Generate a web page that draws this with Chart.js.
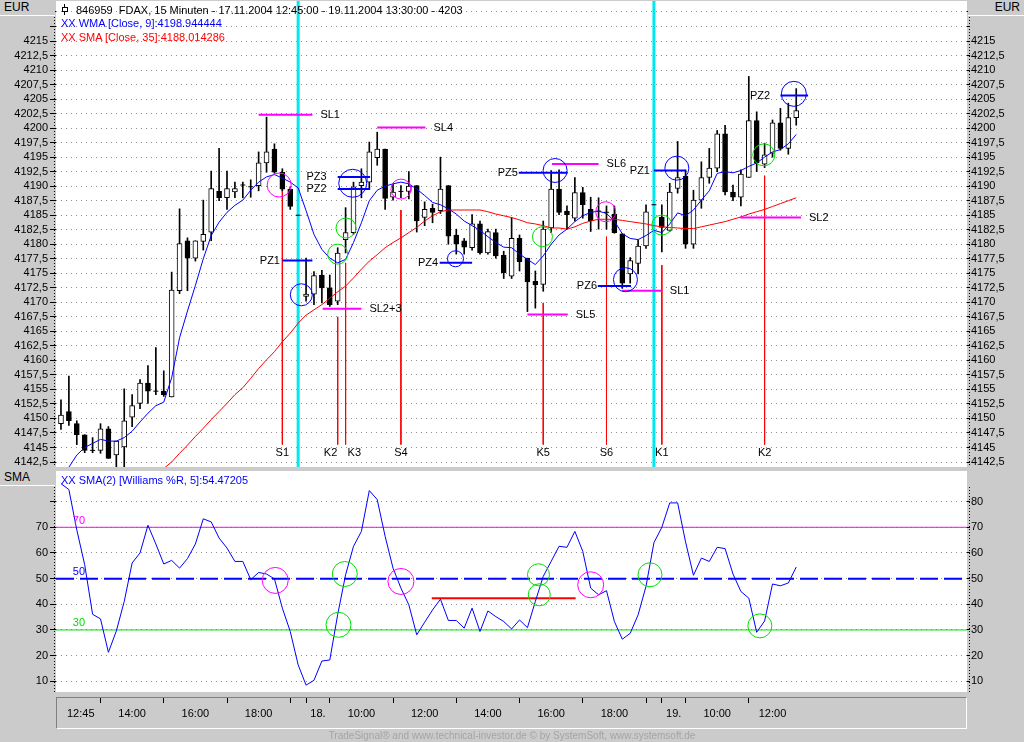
<!DOCTYPE html>
<html>
<head>
<meta charset="utf-8">
<title>FDAX 15 Minuten</title>
<script src="https://cdn.jsdelivr.net/npm/chart.js@4.4.1/dist/chart.umd.min.js"></script>
<style>
  html, body { margin: 0; padding: 0; background: #cbcbcb; }
  #page { position: relative; width: 1024px; height: 742px; overflow: hidden; background: #cbcbcb;
          font-family: 'Liberation Sans', Arial, sans-serif; font-size: 11px; color: #000; }
  canvas { position: absolute; left: 0; }
  #priceChart { top: 0; }
  #wrChart { top: 468px; }
  .hdr { position: absolute; height: 16px; line-height: 15px; background: #cbcbcb; border-bottom: 1px solid #fff;
         box-sizing: border-box; padding: 0 4px; font-size: 12px; }
  .txt { position: absolute; white-space: nowrap; line-height: 14px; }
  .icon { display: inline-block; position: relative; width: 6px; height: 11px; margin-right: 8px; vertical-align: -1px; }
  .icon::before { content: ''; position: absolute; left: 2px; top: 0; width: 1px; height: 11px; background: #000; }
  .icon::after { content: ''; position: absolute; left: 0; top: 3px; width: 4px; height: 3px; border: 1px solid #000; background: #fff; }
  #xbox { position: absolute; left: 56px; top: 697px; width: 911px; height: 32px; box-sizing: border-box;
          border-top: 1px solid #808080; border-left: 1px solid #808080; border-bottom: 1px solid #fff; border-right: 1px solid #fff; }
  #footer { position: absolute; left: 0; width: 1024px; top: 730px; text-align: center; font-size: 10px; color: #a4a4a4; }
</style>
</head>
<body>
<div id="page">
  <canvas id="priceChart" width="1024" height="468"></canvas>
  <canvas id="wrChart" width="1024" height="263"></canvas>

  <div class="hdr" style="left:0; top:0; width:55px;">EUR</div>
  <div class="hdr" style="left:968px; top:0; width:56px; text-align:right;">EUR</div>
  <div class="hdr" style="left:0; top:470px; width:55px;">SMA</div>

  <div class="txt" style="left:62px; top:3px;"><span class="icon"></span>846959&nbsp; FDAX, 15 Minuten - 17.11.2004 12:45:00 - 19.11.2004 13:30:00 - 4203</div>
  <div class="txt" style="left:61px; top:16px; color:#0000ff;">XX WMA [Close, 9]:4198.944444</div>
  <div class="txt" style="left:61px; top:30px; color:#ff0000;">XX SMA [Close, 35]:4188.014286</div>
  <div class="txt" style="left:61px; top:473px; color:#0000ff;">XX SMA(2) [Williams %R, 5]:54.47205</div>

  <div id="xbox"></div>
  <div id="footer">TradeSignal® and www.technical-investor.de © by SystemSoft, www.systemsoft.de</div>
</div>

<script>
// ---- price bars, 15 minute candles 17.11.2004 12:45 - 19.11.2004 13:30
const open = [4149.1, 4151.2, 4149.1, 4147.2, 4144.5, 4144.5, 4148.2, 4143.7, 4145.1, 4150.2,
  4152.6, 4156.1, 4154.7, 4154.7, 4153.7, 4172.0, 4180.6, 4177.6, 4180.5, 4182.1,
  4189.1, 4188.0, 4189.0, 4190.2, 4189.9, 4190.1, 4194.0, 4196.4, 4192.4, 4189.5,
  4185.0, 4171.0, 4171.4, 4174.7, 4172.5, 4170.2, 4180.8, 4182.0, 4190.1, 4190.7,
  4194.9, 4196.4, 4188.1, 4189.1, 4189.1, 4190.1, 4184.6, 4186.2, 4185.8, 4190.1,
  4181.6, 4180.6, 4179.4, 4183.5, 4178.5, 4182.0, 4178.1, 4174.5, 4181.0, 4177.6,
  4173.6, 4173.1, 4182.8, 4189.5, 4185.7, 4184.5, 4188.9, 4186.0, 4185.7, 4185.5,
  4185.2, 4181.8, 4174.9, 4176.7, 4179.7, 4186.8, 4184.7, 4182.4, 4189.6, 4191.7,
  4180.0, 4187.6, 4191.5, 4193.1, 4199.0, 4189.0, 4188.1, 4191.5, 4201.3, 4193.8,
  4195.7, 4200.9, 4196.5, 4201.8];
const high = [4153.2, 4157.3, 4149.6, 4147.2, 4146.7, 4149.1, 4148.6, 4146.1, 4155.1, 4154.1,
  4156.7, 4159.1, 4162.2, 4158.2, 4175.2, 4186.1, 4181.1, 4180.6, 4187.6, 4192.6,
  4196.5, 4192.6, 4190.7, 4190.7, 4191.1, 4195.9, 4201.9, 4197.3, 4193.0, 4189.9,
  4185.0, 4177.6, 4175.3, 4175.5, 4174.7, 4179.4, 4186.3, 4190.7, 4193.0, 4197.6,
  4199.3, 4196.4, 4190.4, 4190.1, 4192.5, 4190.1, 4187.3, 4186.9, 4195.0, 4190.1,
  4182.6, 4181.0, 4185.1, 4184.0, 4182.6, 4182.6, 4178.8, 4184.6, 4181.6, 4177.6,
  4175.4, 4184.0, 4192.7, 4192.8, 4186.6, 4191.5, 4189.8, 4188.1, 4188.0, 4186.6,
  4186.6, 4181.8, 4177.7, 4180.7, 4186.8, 4186.8, 4186.8, 4190.5, 4197.7, 4192.8,
  4189.3, 4194.2, 4196.5, 4199.6, 4200.5, 4190.2, 4192.8, 4208.9, 4202.8, 4197.4,
  4201.4, 4203.4, 4204.3, 4206.8];
const low = [4148.1, 4148.8, 4145.5, 4144.1, 4144.1, 4144.0, 4143.1, 4141.7, 4141.4, 4148.6,
  4151.7, 4152.6, 4154.1, 4153.8, 4153.7, 4171.5, 4172.0, 4177.1, 4179.0, 4180.6,
  4187.5, 4186.0, 4188.0, 4188.0, 4188.1, 4189.2, 4192.4, 4192.2, 4189.2, 4186.0,
  4185.0, 4170.2, 4169.6, 4169.9, 4169.3, 4169.6, 4178.5, 4181.7, 4188.0, 4189.5,
  4193.6, 4186.0, 4187.6, 4188.0, 4187.8, 4182.1, 4183.2, 4183.7, 4185.3, 4180.0,
  4178.3, 4178.3, 4179.0, 4178.3, 4178.3, 4177.6, 4174.1, 4174.1, 4175.4, 4168.4,
  4169.0, 4171.9, 4182.0, 4185.1, 4182.6, 4184.0, 4184.5, 4182.2, 4182.6, 4182.6,
  4181.9, 4172.4, 4173.3, 4174.9, 4179.3, 4186.8, 4178.7, 4182.2, 4188.8, 4179.3,
  4179.3, 4186.2, 4190.5, 4192.5, 4188.5, 4187.5, 4186.6, 4191.5, 4192.5, 4193.2,
  4195.0, 4196.2, 4195.5, 4200.5];
const close = [4150.6, 4149.6, 4147.2, 4144.5, 4144.5, 4148.2, 4143.1, 4146.1, 4149.6, 4152.2,
  4156.1, 4154.7, 4154.7, 4154.1, 4172.1, 4180.1, 4177.6, 4180.6, 4181.7, 4189.6,
  4188.0, 4189.6, 4189.6, 4190.2, 4189.9, 4194.0, 4195.9, 4192.4, 4189.5, 4186.5,
  4185.0, 4171.4, 4174.6, 4172.5, 4169.6, 4178.5, 4182.0, 4189.9, 4190.7, 4195.9,
  4196.4, 4187.9, 4189.0, 4189.1, 4190.0, 4184.0, 4186.0, 4185.5, 4189.5, 4181.4,
  4180.0, 4179.5, 4183.5, 4178.5, 4182.2, 4178.0, 4175.1, 4181.0, 4177.0, 4173.5,
  4173.0, 4182.6, 4189.5, 4185.5, 4185.1, 4188.9, 4186.8, 4184.0, 4185.7, 4185.5,
  4182.0, 4173.3, 4177.2, 4179.7, 4185.6, 4186.8, 4182.9, 4189.0, 4191.5, 4180.0,
  4187.6, 4191.5, 4193.1, 4199.0, 4189.0, 4188.1, 4192.1, 4201.3, 4194.0, 4195.4,
  4200.9, 4196.5, 4201.8, 4203.0];

// indicators
const wma9 = [null, 4141.6, 4143.7, 4145.0, 4145.7, 4146.4, 4146.1, 4146.1, 4146.7, 4147.8,
  4149.4, 4150.9, 4152.2, 4152.8, 4157.0, 4163.9, 4168.5, 4172.9, 4177.5, 4181.5,
  4183.8, 4185.5, 4186.7, 4187.6, 4189.3, 4190.7, 4191.6, 4192.0, 4191.4, 4190.7,
  4189.7, 4185.8, 4181.7, 4179.1, 4177.6, 4176.8, 4177.4, 4180.3, 4183.7, 4187.5,
  4189.3, 4190.0, 4190.4, 4190.7, 4190.4, 4189.5, 4188.4, 4187.2, 4186.8, 4186.1,
  4185.2, 4184.0, 4183.2, 4182.4, 4181.3, 4180.3, 4179.5, 4179.4, 4178.3, 4177.4,
  4176.5, 4178.0, 4180.0, 4181.6, 4182.6, 4183.9, 4184.9, 4185.5, 4185.7, 4185.3,
  4184.0, 4181.8, 4181.0, 4180.8, 4181.5, 4182.4, 4182.0, 4183.5, 4185.4, 4184.9,
  4185.9, 4187.6, 4189.2, 4192.2, 4192.5, 4192.3, 4192.7, 4193.4, 4194.0, 4195.0,
  4195.9, 4196.3, 4197.3, 4198.9];
const sma35 = [null, null, null, null, null, null, null, null, null, null,
  null, null, null, 4141.4, 4142.5, 4144.0, 4145.4, 4146.9, 4148.3, 4149.8,
  4151.2, 4152.6, 4154.1, 4155.3, 4156.9, 4158.6, 4160.1, 4161.5, 4163.2, 4164.7,
  4166.4, 4167.8, 4168.7, 4169.6, 4170.7, 4171.8, 4172.8, 4174.2, 4175.7, 4177.1,
  4178.2, 4179.4, 4180.3, 4181.1, 4182.0, 4182.9, 4184.0, 4184.9, 4185.6, 4185.9,
  4185.9, 4185.9, 4185.9, 4185.9, 4185.6, 4185.2, 4184.9, 4184.6, 4184.2, 4183.7,
  4183.5, 4183.2, 4182.8, 4182.8, 4182.6, 4183.0, 4183.6, 4184.0, 4184.3, 4184.3,
  4184.3, 4184.1, 4183.9, 4183.7, 4183.5, 4183.2, 4183.0, 4182.9, 4182.8, 4182.7,
  4182.7, 4183.0, 4183.3, 4183.6, 4183.9, 4184.3, 4184.7, 4185.2, 4185.6, 4186.0,
  4186.5, 4187.0, 4187.5, 4188.0];
const wrSma = [87.0, 84.7, 69.0, 55.4, 36.1, 34.3, 21.3, 29.6, 41.1, 56.1,
  60.0, 70.8, 63.5, 55.7, 57.1, 54.1, 57.8, 63.5, 73.3, 72.1,
  65.8, 61.9, 56.7, 56.7, 49.6, 52.4, 51.8, 49.9, 38.5, 29.4,
  16.4, 8.5, 10.4, 17.9, 18.3, 36.0, 51.5, 62.6, 68.4, 84.3,
  80.8, 66.5, 54.1, 46.3, 39.8, 28.1, 33.0, 37.8, 42.0, 33.7,
  33.7, 30.7, 38.5, 29.4, 37.4, 35.2, 33.3, 30.4, 33.9, 30.9,
  41.1, 50.9, 56.7, 62.6, 62.2, 68.4, 60.6, 46.3, 43.7, 45.3,
  33.3, 26.4, 28.7, 35.9, 47.0, 64.0, 70.0, 79.5, 79.5, 64.3,
  51.3, 58.0, 56.7, 62.2, 61.7, 51.8, 45.0, 42.4, 29.1, 33.5,
  47.9, 47.2, 48.3, 54.5];

// axes
const priceTicks = [4142.5, 4145, 4147.5, 4150, 4152.5, 4155, 4157.5, 4160, 4162.5, 4165,
  4167.5, 4170, 4172.5, 4175, 4177.5, 4180, 4182.5, 4185, 4187.5, 4190, 4192.5, 4195,
  4197.5, 4200, 4202.5, 4205, 4207.5, 4210, 4212.5, 4215, 4217.5, 4220];
const wrTicks = [10, 20, 30, 40, 50, 60, 70, 80];
const hourTicks = [6, 14, 22, 30, 32, 35, 43, 51, 59, 67, 75, 77, 80, 88];
const timeLabels = ['12:45', '14:00', '16:00', '18:00', '18.', '10:00', '12:00', '14:00', '16:00', '18:00', '19.', '10:00', '12:00'];
const timeLabelAt = [3.5, 10, 18, 26, 33.5, 39, 47, 55, 63, 71, 78.5, 84, 91];
const dayEnds = [31, 76];

// drawn-in trading marks
const slNames = ['SL1', 'SL2+3', 'SL4', 'SL6', 'SL5', 'SL1', 'SL2'];
const slFrom = [26.0, 34.1, 41.0, 63.1, 60.0, 72.0, 86.9];
const slTo = [32.8, 39.0, 47.1, 69.0, 65.1, 77.0, 94.6];
const slLevel = [4202.3, 4168.9, 4200.1, 4193.8, 4167.9, 4172.0, 4184.6];
const pzNames = ['PZ1', 'PZ3', 'PZ2', 'PZ4', 'PZ5', 'PZ6', 'PZ1', 'PZ2'];
const pzFrom = [29.0, 36.0, 36.0, 48.9, 58.9, 68.9, 76.0, 92.0];
const pzTo = [32.8, 40.1, 40.1, 53.0, 65.1, 73.1, 80.0, 95.5];
const pzLevel = [4177.2, 4191.6, 4189.5, 4176.8, 4192.3, 4172.8, 4192.7, 4205.6];
const pzLabelEnd = [28.7, 34.6, 34.6, 48.7, 58.8, 68.8, 75.5, 90.7];
const sigNames = ['S1', 'K2', 'K3', 'S4', 'K5', 'S6', 'K1', 'K2'];
const sigAt = [29, 36, 37, 44, 62, 70, 77, 90];
const sigTop = [4189.7, 4167.5, 4176.8, 4185.9, 4169.9, 4181.3, 4176.4, 4191.8];
const sigLabelAt = [29, 35.1, 38.1, 44, 62, 70, 77, 90];
const sigBase = 4145.5;
const blueRingAt = [31.4, 37.9, 50.9, 63.5, 72.4, 78.9, 93.7];
const blueRingPrice = [4171.3, 4190.5, 4177.5, 4192.7, 4173.9, 4193.1, 4205.9];
const greenRingAt = [36.0, 37.05, 61.9, 77.0, 89.9];
const greenRingPrice = [4178.3, 4182.8, 4181.3, 4183.3, 4195.4];
const pinkRingAt = [28.6, 44.0, 69.9];
const pinkRingPrice = [4190.2, 4189.5, 4185.6];

const wrLevels = [70, 50, 30];
const wrGreenAt = [36.9, 36.1, 61.4, 61.5, 75.5, 89.4];
const wrGreenValue = [51.8, 32.0, 51.5, 43.7, 51.5, 31.6];
const wrPinkAt = [28.1, 44.0, 68.0];
const wrPinkValue = [49.3, 48.9, 47.6];
const wrRange = [47.9, 66.1];
const wrRangeValue = 42.4;

// scale ranges
const X_MIN = 0.37, X_MAX = 115.6;
const P_MIN = 4141.64, P_MAX = 4221.89;
const W_MIN = 5.83, W_MAX = 91.93;

const FONT = "'Liberation Sans', Arial, sans-serif";
Chart.defaults.font.family = FONT;
Chart.defaults.font.size = 11;
Chart.defaults.color = '#000';

const BLUE = '#0000ff', RED = '#ff0000', PINK = '#ff00ff', GREEN = '#00e000', CYAN = '#00e8f0';

function hSegments(from, to, level) {
  return from.flatMap((a, i) => [{x: a, y: level[i]}, {x: to[i], y: level[i]}, {x: to[i], y: null}]);
}
function vSegments(at, top, base) {
  return at.flatMap((k, i) => [{x: k, y: top[i]}, {x: k, y: base}, {x: k, y: null}]);
}
function series(values) {
  return values.map((v, i) => ({x: i + 1, y: v}));
}
function rings(at, vals) {
  return at.map((x, i) => ({x, y: vals[i]}));
}
function ringSet(data, color, radius, order) {
  return { type: 'scatter', data, pointStyle: 'circle', pointRadius: radius, pointBorderWidth: 1,
           pointBorderColor: color, pointBackgroundColor: 'rgba(0,0,0,0)', order };
}
// fixed axis box sizes, no extra room for overhanging labels
function fixBox(w, h) {
  return s => {
    if (w != null) s.width = w;
    if (h != null) s.height = h;
    s.paddingTop = 0; s.paddingBottom = 0; s.paddingLeft = 0; s.paddingRight = 0;
  };
}

// white plot area + dotted rule in the axis columns
const panelPlugin = {
  id: 'panel',
  beforeDraw(chart) {
    const {ctx, chartArea: a} = chart;
    ctx.save();
    ctx.fillStyle = '#ffffff';
    ctx.fillRect(a.left, a.top, a.right - a.left, a.bottom - a.top);
    ctx.restore();
  },
  afterDraw(chart) {
    const {ctx, chartArea: a} = chart;
    ctx.save();
    ctx.strokeStyle = '#000';
    ctx.lineWidth = 1;
    ctx.setLineDash([1, 2]);
    [Math.round(a.left) - 1.5, Math.round(a.right) + 2.5].forEach(x => {
      ctx.beginPath();
      ctx.moveTo(x, a.top + 16);
      ctx.lineTo(x, a.bottom);
      ctx.stroke();
    });
    ctx.restore();
  }
};

function notesPlugin(items) {
  return {
    id: 'notes',
    afterDatasetsDraw(chart) {
      const {ctx} = chart;
      const xs = chart.scales.x, ys = chart.scales.y;
      ctx.save();
      ctx.font = '11px ' + FONT;
      ctx.textBaseline = 'middle';
      items.forEach(n => {
        ctx.fillStyle = n.color;
        ctx.textAlign = n.align;
        ctx.fillText(n.text, xs.getPixelForValue(n.x) + n.dx, ys.getPixelForValue(n.y) + n.dy);
      });
      ctx.restore();
    }
  };
}

const priceLabel = v => (v > 4215 ? '' : String(v).replace('.', ','));

const upperNotes = [
  ...slNames.map((t, i) => ({text: t, x: slTo[i], y: slLevel[i], align: 'left', dx: 8, dy: 0, color: '#000'})),
  ...pzNames.map((t, i) => ({text: t, x: pzLabelEnd[i], y: pzLevel[i], align: 'right', dx: 0, dy: 0, color: '#000'})),
  ...sigNames.map((t, i) => ({text: t, x: sigLabelAt[i], y: sigBase, align: 'center', dx: 0, dy: 8, color: '#000'}))
];

const bodies = open.map((o, i) => ({x: i + 1, y: [o, close[i]]}));
const wicks = high.map((h, i) => ({x: i + 1, y: [low[i], h]}));
const dojis = open.map((o, i) => (o === close[i] ? {x: i + 1, y: o} : null)).filter(Boolean);
const bodyFill = open.map((o, i) => (close[i] >= o ? '#ffffff' : '#000000'));

new Chart(document.getElementById('priceChart'), {
  type: 'bar',
  data: {
    datasets: [
      { type: 'line', data: dayEnds.flatMap(k => [{x: k, y: P_MIN}, {x: k, y: P_MAX}, {x: k, y: null}]),
        borderColor: CYAN, borderWidth: 3, pointRadius: 0, order: 10 },
      { type: 'line', data: vSegments(sigAt, sigTop, sigBase), borderColor: RED, borderWidth: 1, pointRadius: 0, order: 9 },
      { type: 'bar', data: wicks, backgroundColor: '#000', barThickness: 1, grouped: false, order: 8 },
      { type: 'bar', data: bodies, backgroundColor: bodyFill, borderColor: '#000', borderWidth: 1,
        borderSkipped: false, barThickness: 5, grouped: false, order: 7 },
      { type: 'scatter', data: dojis, pointStyle: 'line', pointRadius: 2.5, pointBorderWidth: 1,
        pointBorderColor: '#000', order: 7 },
      { type: 'line', data: series(sma35), borderColor: RED, borderWidth: 1, pointRadius: 0, order: 6 },
      { type: 'line', data: series(wma9), borderColor: BLUE, borderWidth: 1, pointRadius: 0, order: 5 },
      { type: 'line', data: hSegments(slFrom, slTo, slLevel), borderColor: PINK, borderWidth: 2, pointRadius: 0, order: 4 },
      { type: 'line', data: hSegments(pzFrom, pzTo, pzLevel), borderColor: BLUE, borderWidth: 2, pointRadius: 0, order: 4 },
      ringSet(rings(blueRingAt, blueRingPrice), BLUE, [11, 14, 8, 12, 12, 12, 12.5], 3),
      ringSet(rings(greenRingAt, greenRingPrice), GREEN, [10, 10, 10, 10, 11], 3),
      ringSet(rings(pinkRingAt, pinkRingPrice), PINK, [12, 10, 10], 3)
    ]
  },
  options: {
    responsive: false,
    animation: false,
    devicePixelRatio: 1,
    events: [],
    layout: { autoPadding: false, padding: { top: 1, bottom: 1, left: 0, right: 0 } },
    plugins: { legend: { display: false }, tooltip: { enabled: false } },
    scales: {
      x: { type: 'linear', min: X_MIN, max: X_MAX, display: false, offset: false, grid: { offset: false } },
      y: {
        position: 'left', min: P_MIN, max: P_MAX,
        afterBuildTicks: s => { s.ticks = priceTicks.map(v => ({value: v})); },
        afterFit: fixBox(56, null),
        ticks: { callback: priceLabel, padding: 2, autoSkip: false },
        grid: { color: '#8c8c8c', tickColor: '#000', tickLength: 6, tickBorderDash: [] },
        border: { display: false, dash: [1, 4] }
      },
      y2: {
        position: 'right', min: P_MIN, max: P_MAX,
        afterBuildTicks: s => { s.ticks = priceTicks.map(v => ({value: v})); },
        afterFit: fixBox(57, null),
        ticks: { callback: priceLabel, padding: 1, autoSkip: false },
        grid: { drawOnChartArea: false, tickColor: '#000', tickLength: 3 },
        border: { display: false }
      }
    }
  },
  plugins: [panelPlugin, notesPlugin(upperNotes)]
});

const lowerNotes = wrLevels.map((v, i) => ({
  text: String(v), x: 2.5, y: v, align: 'left', dx: 0, dy: -6.5, color: [PINK, BLUE, GREEN][i]
}));

new Chart(document.getElementById('wrChart'), {
  type: 'line',
  data: {
    datasets: [
      { data: [{x: X_MIN, y: wrLevels[0]}, {x: X_MAX, y: wrLevels[0]}], borderColor: PINK, borderWidth: 1, pointRadius: 0, order: 6 },
      { data: [{x: X_MIN, y: wrLevels[1]}, {x: X_MAX, y: wrLevels[1]}], borderColor: BLUE, borderWidth: 2,
        borderDash: [18, 6], pointRadius: 0, order: 6 },
      { data: [{x: X_MIN, y: wrLevels[2]}, {x: X_MAX, y: wrLevels[2]}], borderColor: GREEN, borderWidth: 1, pointRadius: 0, order: 6 },
      { data: [{x: wrRange[0], y: wrRangeValue}, {x: wrRange[1], y: wrRangeValue}], borderColor: RED, borderWidth: 2, pointRadius: 0, order: 5 },
      { data: series(wrSma), borderColor: BLUE, borderWidth: 1, pointRadius: 0, order: 4 },
      ringSet(rings(wrGreenAt, wrGreenValue), GREEN, [12.5, 12.5, 11, 11, 12, 12], 3),
      ringSet(rings(wrPinkAt, wrPinkValue), PINK, 13, 3)
    ]
  },
  options: {
    responsive: false,
    animation: false,
    devicePixelRatio: 1,
    events: [],
    layout: { autoPadding: false, padding: { top: 3, bottom: 2, left: 0, right: 0 } },
    plugins: { legend: { display: false }, tooltip: { enabled: false } },
    scales: {
      x: {
        type: 'linear', min: X_MIN, max: X_MAX, position: 'bottom', weight: 0,
        ticks: { display: false }, grid: { display: false }, border: { display: false },
        afterFit: fixBox(null, 6)
      },
      xt: {
        type: 'linear', min: X_MIN, max: X_MAX, position: 'bottom', weight: 1,
        afterBuildTicks: s => { s.ticks = hourTicks.map(v => ({value: v})); },
        ticks: { display: false },
        grid: { drawOnChartArea: false, tickLength: 5, tickColor: '#000' },
        border: { display: false },
        afterFit: fixBox(null, 5)
      },
      xl: {
        type: 'linear', min: X_MIN, max: X_MAX, position: 'bottom', weight: 2,
        afterBuildTicks: s => { s.ticks = timeLabelAt.map(v => ({value: v})); },
        ticks: { callback: (v, i) => timeLabels[i], autoSkip: false, maxRotation: 0, padding: 4 },
        grid: { display: false, drawTicks: false },
        border: { display: false },
        afterFit: fixBox(null, 26)
      },
      y: {
        position: 'left', min: W_MIN, max: W_MAX,
        afterBuildTicks: s => { s.ticks = wrTicks.map(v => ({value: v})); },
        afterFit: fixBox(56, null),
        ticks: { callback: v => (v === 80 ? '' : v), padding: 2, autoSkip: false },
        grid: { color: '#8c8c8c', tickColor: '#000', tickLength: 6, tickBorderDash: [] },
        border: { display: false, dash: [1, 4] }
      },
      y2: {
        position: 'right', min: W_MIN, max: W_MAX,
        afterBuildTicks: s => { s.ticks = wrTicks.map(v => ({value: v})); },
        afterFit: fixBox(57, null),
        ticks: { padding: 1, autoSkip: false },
        grid: { drawOnChartArea: false, tickColor: '#000', tickLength: 3 },
        border: { display: false }
      }
    }
  },
  plugins: [panelPlugin, notesPlugin(lowerNotes)]
});
</script>
</body>
</html>
